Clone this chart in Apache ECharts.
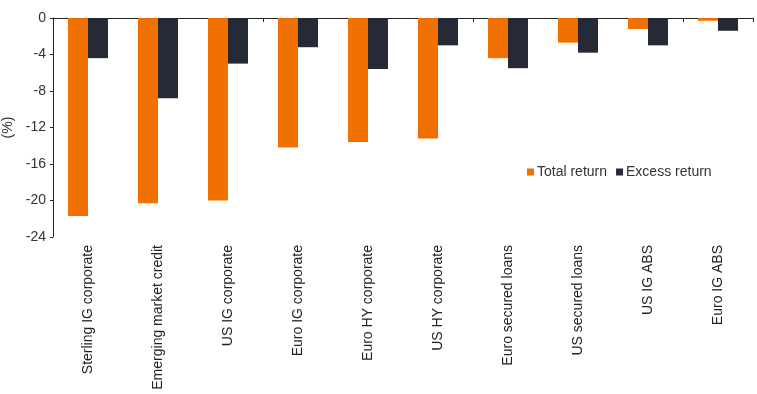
<!DOCTYPE html>
<html><head><meta charset="utf-8">
<script src="https://cdn.jsdelivr.net/npm/echarts@6/dist/echarts.min.js"></script>
<style>html,body{margin:0;padding:0;background:#fff}#c{width:757px;height:394px}</style>
</head><body><div id="c"></div>
<script>
const categories = ["Sterling IG corporate","Emerging market credit","US IG corporate","Euro IG corporate","Euro HY corporate","US HY corporate","Euro secured loans","US secured loans","US IG ABS","Euro IG ABS"];
const totalReturn = [-21.7,-20.3,-20.0,-14.2,-13.6,-13.2,-4.4,-2.7,-1.2,-0.3];
const excessReturn = [-4.4,-8.8,-5.0,-3.2,-5.6,-3.0,-5.5,-3.8,-3.0,-1.4];
const yTicks = {min:-24,max:0,interval:4};

const chart = echarts.init(document.getElementById('c'), null, {renderer:'canvas'});
const font = 'Arial, "Liberation Sans", sans-serif';
chart.setOption({
  animation:false,
  textStyle:{fontFamily:font},
  grid:{left:53,right:4,top:18,bottom:157,containLabel:false,outerBoundsMode:'none'},
  legend:{
    data:['Total return','Excess return'],
    left:522, top:160, itemWidth:7, itemHeight:7, itemGap:9,
    icon:'rect',
    textStyle:{fontFamily:font,fontSize:14,color:'#333',padding:[0,0,0,-2]}
  },
  xAxis:[{
    type:'category', data:categories, position:'bottom',
    axisLine:{show:false,onZero:false}, axisTick:{show:false},
    axisLabel:{rotate:90,fontSize:14,color:'#222',fontFamily:font,margin:8,interval:0}
  },{
    type:'category', data:categories, position:'top',
    axisLine:{show:true,onZero:false,lineStyle:{color:'#222',width:1}},
    axisTick:{show:true,inside:true,length:4,lineStyle:{color:'#222'}},
    axisLabel:{show:false}
  }],
  yAxis:{
    type:'value', min:yTicks.min, max:yTicks.max, interval:yTicks.interval,
    name:'(%)', nameLocation:'middle', nameGap:35, nameRotate:90,
    nameTextStyle:{fontSize:14,color:'#333',fontFamily:font},
    axisLine:{show:true,lineStyle:{color:'#222'}},
    axisTick:{show:true,length:3,lineStyle:{color:'#222'}},
    splitLine:{show:false},
    axisLabel:{fontSize:14,color:'#333',fontFamily:font,margin:7}
  },
  series:[
    {name:'Total return',type:'bar',data:totalReturn,itemStyle:{color:'#F07000'},barWidth:20,barGap:'0%'},
    {name:'Excess return',type:'bar',data:excessReturn,itemStyle:{color:'#262A36'},barWidth:20,barGap:'0%'}
  ]
});
</script></body></html>
